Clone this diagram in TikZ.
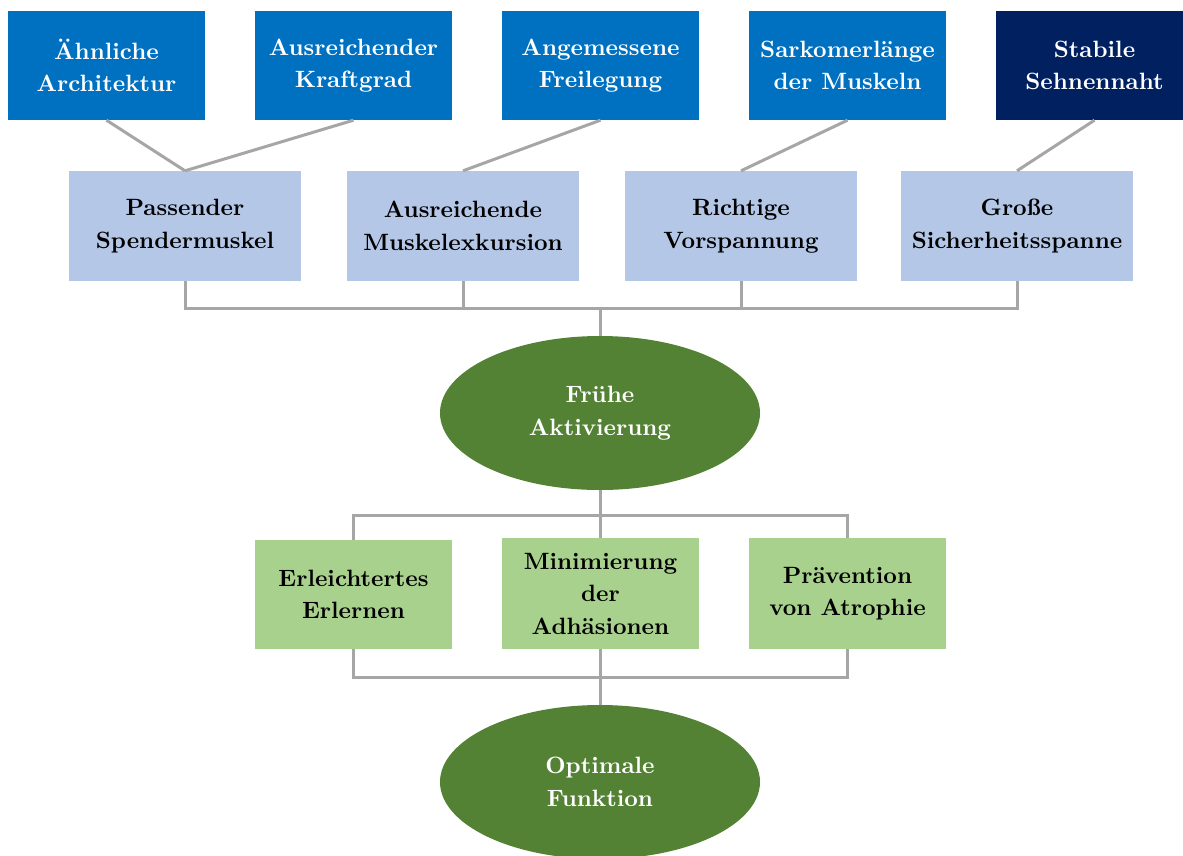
\documentclass[tikz,border=0pt]{standalone}
\usepackage{fontspec}
\newfontfamily\tenbx{lmroman10-bold.otf}
\usetikzlibrary{shapes.geometric}
\definecolor{topblue}{HTML}{0070C0}
\definecolor{navy}{HTML}{002060}
\definecolor{lightblue}{HTML}{B4C7E7}
\definecolor{lightgreen}{HTML}{A9D18E}
\definecolor{darkgreen}{HTML}{548235}
\definecolor{linegray}{HTML}{A6A6A6}
\begin{document}
\begin{tikzpicture}[x=1pt,y=-1pt,
  lbl/.style={font=\tenbx\fontsize{23.6}{32.5}\selectfont, align=center, inner sep=0pt,
    execute at begin node={\rule{0pt}{22pt}}},
  topbox/.style={lbl, rectangle, fill=topblue, text=white, minimum width=197pt, minimum height=109pt},
  midbox/.style={lbl, rectangle, fill=lightblue, text=black, minimum width=232pt, minimum height=110pt},
  lowbox/.style={lbl, rectangle, fill=lightgreen, text=black, minimum width=197pt},
  oval/.style={lbl, ellipse, fill=darkgreen, text=white, minimum width=320pt, minimum height=154pt},
  conn/.style={draw=linegray, line width=3pt}
]
\useasboundingbox (0,0) rectangle (1183,855);
\clip (0,0) rectangle (1183,855);

% top row
\node[topbox] (t1) at (106.5,65.5) {Ähnliche\\Architektur};
\node[topbox] (t2) at (353.5,65.5) {Ausreichender\\Kraftgrad};
\node[topbox] (t3) at (600.5,65.5) {Angemessene\\Freilegung};
\node[topbox] (t4) at (847.5,65.5) {Sarkomerlänge\\der Muskeln};
\node[topbox, fill=navy] (t5) at (1094.5,65.5) {Stabile\\Sehnennaht};

% second row
\node[midbox] (m1) at (185,226) {Passender\\Spendermuskel};
\node[midbox] (m2) at (463,226) {Ausreichende\\Muskelexkursion};
\node[midbox] (m3) at (741,226) {Richtige\\Vorspannung};
\node[midbox] (m4) at (1017,226) {Große\\Sicherheitsspanne};

% ellipses
\node[oval] (e1) at (600,413) {Frühe\\Aktivierung};
\node[oval] (e2) at (600,782) {Optimale\\Funktion};

% bottom row
\node[lowbox, minimum height=109pt] (b1) at (353.5,594.5) {Erleichtertes\\Erlernen};
\node[lowbox, minimum height=111pt] (b2) at (600.5,593.5) {Minimierung\\der\\Adhäsionen};
\node[lowbox, minimum height=111pt] (b3) at (847.5,593.5) {Prävention\\von Atrophie};

% bus coordinates
\coordinate (busA) at (600,308);
\coordinate (busB) at (600,515);
\coordinate (busC) at (600,677);

% top to second row
\draw[conn] (t1.south) -- (m1.north);
\draw[conn] (t2.south) -- (m1.north);
\draw[conn] (t3.south) -- (m2.north);
\draw[conn] (t4.south) -- (m3.north);
\draw[conn] (t5.south) -- (m4.north);

% second row to ellipse 1
\draw[conn] (m1.south) |- (m4.south |- busA) -- (m4.south);
\draw[conn] (m2.south) -- (m2.south |- busA);
\draw[conn] (m3.south) -- (m3.south |- busA);
\draw[conn] (busA) -- (e1.north);

% ellipse 1 to bottom row
\draw[conn] (e1.south) -- (busB);
\draw[conn] (b1.north) |- (b3.north |- busB) -- (b3.north);
\draw[conn] (busB) -- (busB -| b2.north) -- (b2.north);

% bottom row to ellipse 2
\draw[conn] (b1.south) |- (b3.south |- busC) -- (b3.south);
\draw[conn] (b2.south) -- (b2.south |- busC);
\draw[conn] (busC) -- (e2.north);
\end{tikzpicture}
\end{document}
